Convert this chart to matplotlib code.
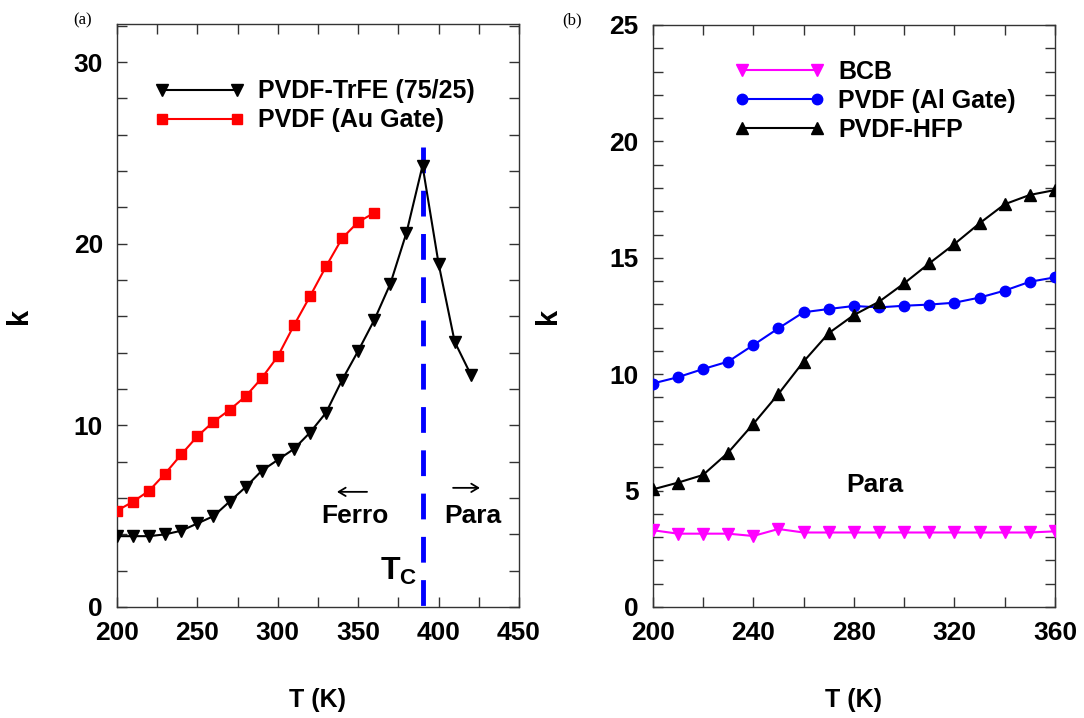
import matplotlib.pyplot as plt
from matplotlib.lines import Line2D
from matplotlib.legend_handler import HandlerLine2D
from matplotlib.ticker import MultipleLocator

plt.rcParams['font.family'] = ['Liberation Sans', 'DejaVu Sans']
plt.rcParams['font.weight'] = 'bold'
plt.rcParams['mathtext.fontset'] = 'custom'
plt.rcParams['mathtext.bf'] = 'Liberation Sans:bold'
plt.rcParams['mathtext.rm'] = 'Liberation Sans:bold'

# (a) PVDF-TrFE (75/25) and PVDF with Au gate
t_trfe = [200, 210, 220, 230, 240, 250, 260, 270, 280, 290, 300, 310,
          320, 330, 340, 350, 360, 370, 380, 390, 400, 410, 420]
k_trfe = [3.9, 3.9, 3.9, 4.0, 4.2, 4.6, 5.0, 5.8, 6.6, 7.5, 8.1, 8.7,
          9.6, 10.7, 12.5, 14.1, 15.8, 17.8, 20.6, 24.3, 18.9, 14.6, 12.8]

t_au = [200, 210, 220, 230, 240, 250, 260, 270, 280, 290, 300, 310,
        320, 330, 340, 350, 360]
k_au = [5.3, 5.8, 6.4, 7.35, 8.4, 9.4, 10.2, 10.85, 11.6, 12.6, 13.8, 15.5,
        17.1, 18.75, 20.3, 21.2, 21.7]

# Curie temperature
t_c = 390
t_c_top = 25.3

# (b) BCB, PVDF with Al gate, PVDF-HFP
t_b = [200, 210, 220, 230, 240, 250, 260, 270, 280, 290, 300, 310,
       320, 330, 340, 350, 360]
k_bcb = [3.3, 3.15, 3.15, 3.15, 3.05, 3.35, 3.2, 3.2, 3.2, 3.2, 3.2, 3.2,
         3.2, 3.2, 3.2, 3.2, 3.25]
k_al = [9.6, 9.87, 10.22, 10.54, 11.25, 11.97, 12.66, 12.8, 12.93, 12.87,
        12.94, 12.99, 13.07, 13.29, 13.59, 13.97, 14.16]
k_hfp = [5.05, 5.34, 5.67, 6.63, 7.86, 9.15, 10.54, 11.76, 12.54, 13.11,
         13.9, 14.76, 15.59, 16.48, 17.3, 17.7, 17.91]

tick_fs = 19
label_fs = 18
leg_prop = {'family': 'Liberation Sans', 'weight': 'bold', 'size': 18}
# markers sit right at the ends of the legend line
leg_handler = {Line2D: HandlerLine2D(marker_pad=0, numpoints=2)}

fig = plt.figure(figsize=(10.84, 7.18), dpi=100)
ax1 = fig.add_axes([0.1079, 0.1546, 0.3709, 0.812])
ax2 = fig.add_axes([0.6021, 0.1546, 0.3711, 0.8106])


def style_axis(ax):
    for s in ax.spines.values():
        s.set_linewidth(1.0)
        s.set_color('#333333')
    ax.tick_params(which='both', direction='in', top=True, right=True,
                   length=7, width=1.0, color='#333333')
    ax.tick_params(axis='both', labelsize=tick_fs, pad=10)


# ---- panel (a)
ax1.plot([t_c, t_c], [t_c_top, -0.3], color='#0000ff', lw=3.5,
         linestyle=(0, (5.3, 3.6)), zorder=1.5, clip_on=False)
ax1.plot(t_trfe, k_trfe, color='black', marker='v', ms=9, lw=1.5,
         label='PVDF-TrFE (75/25)', zorder=3)
ax1.plot(t_au, k_au, color='#ff0000', marker='s', ms=7.5, lw=1.5,
         label='PVDF (Au Gate)', zorder=3)

ax1.set_xlim(200, 450)
ax1.set_ylim(0, 32.1)
ax1.xaxis.set_major_locator(MultipleLocator(50))
ax1.xaxis.set_minor_locator(MultipleLocator(25))
ax1.yaxis.set_major_locator(MultipleLocator(10))
ax1.yaxis.set_minor_locator(MultipleLocator(2))
style_axis(ax1)

# phase arrows and labels
ax1.annotate('', xy=(336.8, 6.34), xytext=(355.5, 6.34),
             arrowprops=dict(arrowstyle='->, head_length=0.5, head_width=0.3',
                             lw=1.3, color='black', shrinkA=0, shrinkB=0))
ax1.annotate('', xy=(425.7, 6.56), xytext=(409, 6.56),
             arrowprops=dict(arrowstyle='->, head_length=0.5, head_width=0.3',
                             lw=1.3, color='black', shrinkA=0, shrinkB=0))
ax1.text(348, 5.0, 'Ferro', fontsize=19, ha='center', va='center')
ax1.text(421, 5.0, 'Para', fontsize=19, ha='center', va='center')
ax1.text(375, 1.95, r'$\mathbf{T_C}$', fontsize=23, ha='center', va='center')

ax1.legend(loc='upper left', bbox_to_anchor=(0.112, 0.905), frameon=False,
           prop=leg_prop, handlelength=3.0, handletextpad=0.85,
           labelspacing=0.2, borderpad=0, borderaxespad=0,
           handler_map=leg_handler)

ax1.set_xlabel('T (K)', fontsize=label_fs, fontweight='bold')
ax1.set_ylabel('k', fontsize=21, fontweight='bold')
ax1.xaxis.set_label_coords(0.5, -0.139)
ax1.yaxis.set_label_coords(-0.209, 0.5)

# ---- panel (b)
ax2.plot(t_b, k_bcb, color='#ff00ff', marker='v', ms=8.5, lw=1.5,
         label='BCB', zorder=3)
ax2.plot(t_b, k_al, color='#0000ff', marker='o', ms=7.5, lw=1.5,
         label='PVDF (Al Gate)', zorder=3)
ax2.plot(t_b, k_hfp, color='black', marker='^', ms=8.5, lw=1.5,
         label='PVDF-HFP', zorder=3)

ax2.set_xlim(200, 360)
ax2.set_ylim(0, 25)
ax2.xaxis.set_major_locator(MultipleLocator(40))
ax2.xaxis.set_minor_locator(MultipleLocator(20))
ax2.yaxis.set_major_locator(MultipleLocator(5))
ax2.yaxis.set_minor_locator(MultipleLocator(1))
style_axis(ax2)

ax2.text(288.4, 5.24, 'Para', fontsize=19, ha='center', va='center')

ax2.legend(loc='upper left', bbox_to_anchor=(0.222, 0.94), frameon=False,
           prop=leg_prop, handlelength=3.0, handletextpad=0.85,
           labelspacing=0.2, borderpad=0, borderaxespad=0,
           handler_map=leg_handler)

ax2.set_xlabel('T (K)', fontsize=label_fs, fontweight='bold')
ax2.set_ylabel('k', fontsize=21, fontweight='bold')
ax2.xaxis.set_label_coords(0.5, -0.139)
ax2.yaxis.set_label_coords(-0.225, 0.5)

# panel tags
fig.text(83 / 1084, 1 - 20 / 718, '(a)', family='Liberation Serif',
         fontweight='normal', fontsize=12, ha='center', va='center')
fig.text(572 / 1084, 1 - 20 / 718, '(b)', family='Liberation Serif',
         fontweight='normal', fontsize=12, ha='center', va='center')

plt.savefig('out.png', dpi=100)
